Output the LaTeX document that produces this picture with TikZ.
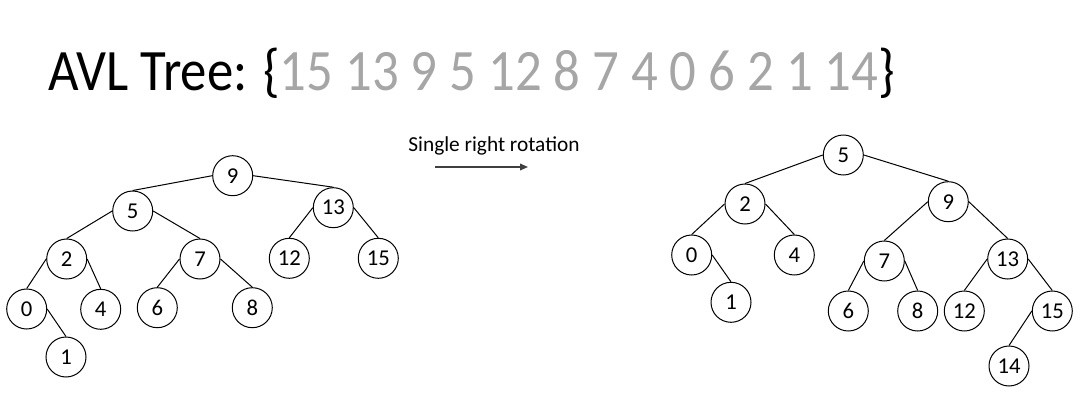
\documentclass[tikz,border=0pt]{standalone}
\usepackage{fontspec}
\setmainfont{Carlito}
\usetikzlibrary{arrows.meta}
\definecolor{seqgray}{RGB}{166,166,166}
\definecolor{arrowgray}{RGB}{64,64,64}

\begin{document}
\begin{tikzpicture}[x=0.75pt,y=0.75pt,yscale=-1,xscale=1,
  treenode/.style={draw, circle, line width=0.75pt, minimum size=30pt, inner sep=0pt, font=\fontsize{17}{20}\selectfont},
  treeedge/.style={line width=0.75pt}]
\useasboundingbox (0,0) rectangle (1086,407);

% Title
\draw (48,90) node [anchor=base west, inner sep=0pt, font=\fontsize{44}{52}\selectfont] (title) {\scalebox{0.9}[1]{AVL Tree: \{\textcolor{seqgray}{15 13 9 5 12 8 7 4 0 6 2 1 14}\}}};

%Left tree (before)
\node [treenode] (l9) at (232.7,175.7) {9};
\node [treenode] (l5) at (132.7,211) {5};
\node [treenode] (l13) at (333.3,207.7) {13};
\node [treenode] (l2) at (66.7,259) {2};
\node [treenode] (l7) at (200,259) {7};
\node [treenode] (l12) at (289.3,258.3) {12};
\node [treenode] (l15) at (378.3,258.3) {15};
\node [treenode] (l0) at (26.7,309) {0};
\node [treenode] (l4) at (100.7,309.3) {4};
\node [treenode] (l6) at (157.3,307.7) {6};
\node [treenode] (l8) at (252.3,307.7) {8};
\node [treenode] (l1) at (66,357) {1};

\draw [treeedge] (l9.west) -- (l5.north);
\draw [treeedge] (l9.east) -- (l13.north);
\draw [treeedge] (l5.west) -- (l2.north);
\draw [treeedge] (l5.east) -- (l7.north);
\draw [treeedge] (l13.west) -- (l12.north);
\draw [treeedge] (l13.east) -- (l15.north);
\draw [treeedge] (l2.west) -- (l0.north);
\draw [treeedge] (l2.east) -- (l4.north);
\draw [treeedge] (l7.west) -- (l6.north);
\draw [treeedge] (l7.east) -- (l8.north);
\draw [treeedge] (l0.east) -- (l1.north);

% Text Node
\draw (494,146) node [inner sep=0pt, font=\fontsize{16}{19}\selectfont] (rotlabel) {Single right rotation};
%Straight Lines
\coordinate (arrowstart) at (435,167);
\coordinate (arrowend) at (528,167);
\draw [arrowgray, line width=1.2pt, -{Triangle[length=6pt,width=5pt]}] (arrowstart) -- (arrowend);

%Right tree (after)
\node [treenode] (r5) at (843.3,155) {5};
\node [treenode] (r2) at (745,204) {2};
\node [treenode] (r9) at (948.3,201.7) {9};
\node [treenode] (r0) at (691.7,255) {0};
\node [treenode] (r4) at (794.3,255) {4};
\node [treenode] (r7) at (884.3,261) {7};
\node [treenode] (r13) at (1007.7,259) {13};
\node [treenode] (r1) at (731,302.3) {1};
\node [treenode] (r6) at (848.3,311) {6};
\node [treenode] (r8) at (917.7,311) {8};
\node [treenode] (r12) at (964.3,311) {12};
\node [treenode] (r15) at (1052.3,311) {15};
\node [treenode] (r14) at (1009,366) {14};

\draw [treeedge] (r5.west) -- (r2.north);
\draw [treeedge] (r5.east) -- (r9.north);
\draw [treeedge] (r2.west) -- (r0.north);
\draw [treeedge] (r2.east) -- (r4.north);
\draw [treeedge] (r0.east) -- (r1.north);
\draw [treeedge] (r9.west) -- (r7.north);
\draw [treeedge] (r9.east) -- (r13.north);
\draw [treeedge] (r7.west) -- (r6.north);
\draw [treeedge] (r7.east) -- (r8.north);
\draw [treeedge] (r13.west) -- (r12.north);
\draw [treeedge] (r13.east) -- (r15.north);
\draw [treeedge] (r15.west) -- (r14.north);

\end{tikzpicture}
\end{document}
